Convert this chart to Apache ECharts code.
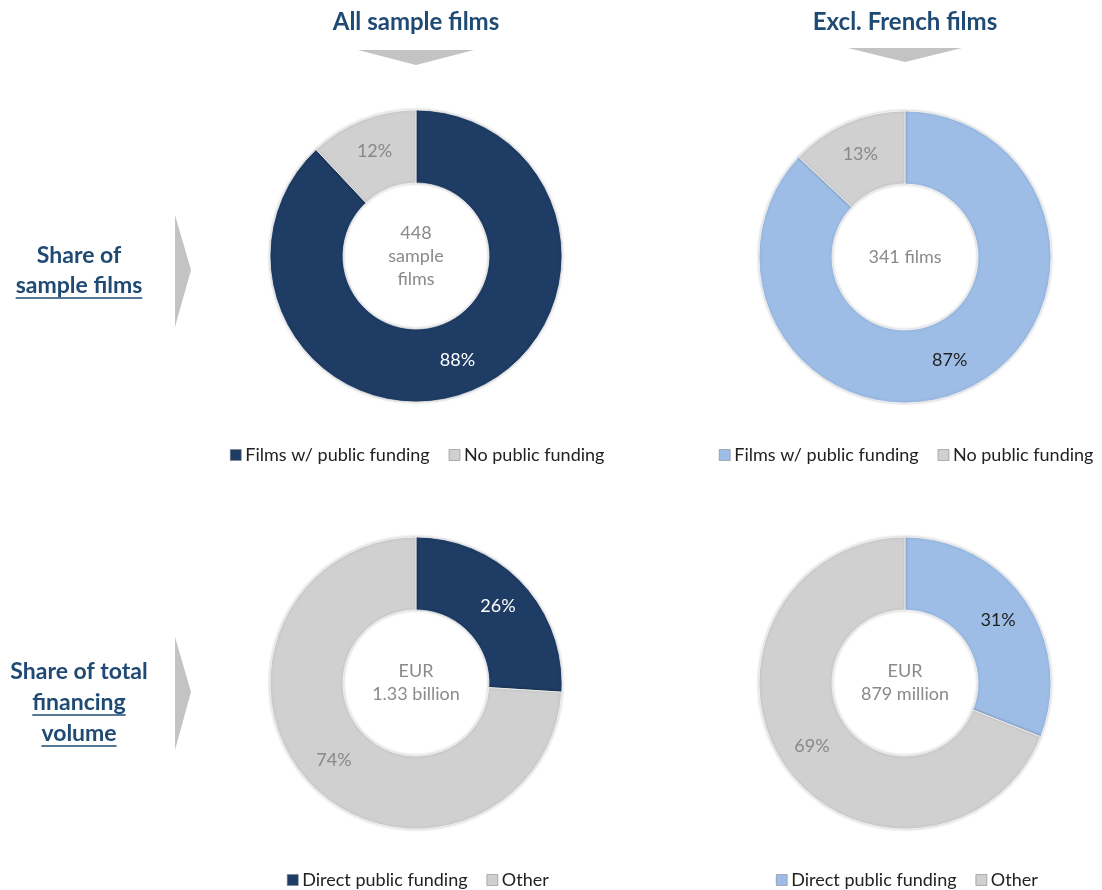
<!DOCTYPE html>
<html>
<head>
<meta charset="utf-8">
<script src="https://cdn.jsdelivr.net/npm/echarts@6/dist/echarts.min.js"></script>
<style>
  html, body { margin: 0; padding: 0; background: #fff; }
  #chart { width: 1102px; height: 890px; }
</style>
</head>
<body>
<div id="chart"></div>
<script>
// ---- data
var filmNames = ['Films w/ public funding', 'No public funding'];
var volumeNames = ['Direct public funding', 'Other'];
var allFilmsShare = [88, 12];
var exclFilmsShare = [87, 13];
var allVolumeShare = [26, 74];
var exclVolumeShare = [31, 69];
var columnTitles = ['All sample films', 'Excl. French films'];
var centerTexts = ['448\nsample\nfilms', '341 films', 'EUR\n1.33 billion', 'EUR\n879 million'];

var DARK = '#1e3c64';
var LIGHT = '#9dbde6';
var GREY = '#d0d0d0';
var NAVY = '#1f4a74';
var FONT = 'Lato, "Open Sans", sans-serif';

function pieData(names, values, colors, labelColors) {
    return values.map(function (v, i) {
        return {
            name: names[i],
            value: v,
            itemStyle: { color: colors[i] },
            label: { color: labelColors[i] }
        };
    });
}

function donut(cx, cy, data) {
    return {
        type: 'pie',
        center: [cx, cy],
        radius: [73, 146],
        startAngle: 90,
        clockwise: true,
        silent: true,
        animation: false,
        itemStyle: {
            borderColor: 'rgba(255,255,255,0.7)',
            borderWidth: 1,
            shadowBlur: 3,
            shadowColor: 'rgba(0,0,0,0.25)'
        },
        label: {
            show: true,
            position: 'inside',
            formatter: '{c}%',
            fontFamily: FONT,
            fontSize: 18
        },
        labelLine: { show: false },
        data: data
    };
}

function legendFor(left, top, names, colors) {
    return {
        left: left,
        top: top,
        padding: 0,
        width: 400,
        orient: 'horizontal',
        itemWidth: 11,
        itemHeight: 11,
        itemGap: 19,
        icon: 'rect',
        selectedMode: false,
        textStyle: { fontFamily: FONT, fontSize: 18, color: '#222', padding: [0, 0, 0, -1] },
        data: names.map(function (n, i) {
            return { name: n, itemStyle: { color: colors[i], borderColor: '#777', borderWidth: 0.5 } };
        })
    };
}

var chart = echarts.init(document.getElementById('chart'));

var centers = [[416, 256], [905, 257], [416, 683], [905, 683]];

function centerText(i) {
    return {
        type: 'text',
        x: centers[i][0],
        y: centers[i][1],
        style: {
            text: centerTexts[i],
            fill: '#8a8a8a',
            font: '18px ' + FONT,
            align: 'center',
            verticalAlign: 'middle',
            lineHeight: 23
        }
    };
}

var SIDE_FONT = 'bold 23px ' + FONT;
var measure = document.createElement('canvas').getContext('2d');
measure.font = SIDE_FONT;

function sideText(x, y, text) {
    return {
        type: 'text', x: x, y: y,
        style: {
            text: text, fill: NAVY, font: SIDE_FONT,
            align: 'center', verticalAlign: 'middle'
        }
    };
}

function underline(cx, y, text) {
    var w = measure.measureText(text).width;
    return {
        type: 'line',
        shape: { x1: cx - w / 2, y1: y, x2: cx + w / 2, y2: y },
        style: { stroke: NAVY, lineWidth: 1.5 }
    };
}

chart.setOption({
    backgroundColor: '#fff',
    legend: [
        legendFor(230, 446, filmNames, [DARK, GREY]),
        legendFor(719, 446, filmNames, [LIGHT, GREY]),
        legendFor(287, 871, volumeNames, [DARK, GREY]),
        legendFor(776, 871, volumeNames, [LIGHT, GREY])
    ],
    graphic: [
        // column titles
        { type: 'text', x: 416, y: 22, style: { text: columnTitles[0], fill: NAVY, font: 'bold 24px ' + FONT, align: 'center', verticalAlign: 'middle' } },
        { type: 'text', x: 905, y: 22, style: { text: columnTitles[1], fill: NAVY, font: 'bold 24px ' + FONT, align: 'center', verticalAlign: 'middle' } },
        // down arrows
        { type: 'polygon', shape: { points: [[358, 50], [474, 50], [416, 65]] }, style: { fill: '#c3c3c3' } },
        { type: 'polygon', shape: { points: [[848, 48], [962, 48], [905, 62]] }, style: { fill: '#c3c3c3' } },
        // side arrows
        { type: 'polygon', shape: { points: [[175, 215], [191, 270], [175, 327]] }, style: { fill: '#c3c3c3' } },
        { type: 'polygon', shape: { points: [[175, 637], [191, 692], [175, 750]] }, style: { fill: '#c3c3c3' } },
        // row labels
        sideText(79, 256, 'Share of'),
        sideText(79, 286, 'sample films'),
        underline(79, 298, 'sample films'),
        sideText(79, 672, 'Share of total'),
        sideText(79, 703, 'financing'),
        underline(79, 715, 'financing'),
        sideText(79, 734, 'volume'),
        underline(79, 746, 'volume'),
        centerText(0), centerText(1), centerText(2), centerText(3)
    ],
    series: [
        donut(416, 256, pieData(filmNames, allFilmsShare, [DARK, GREY], ['#fff', '#888'])),
        donut(905, 257, pieData(filmNames, exclFilmsShare, [LIGHT, GREY], ['#222', '#888'])),
        donut(416, 683, pieData(volumeNames, allVolumeShare, [DARK, GREY], ['#fff', '#888'])),
        donut(905, 683, pieData(volumeNames, exclVolumeShare, [LIGHT, GREY], ['#222', '#888']))
    ]
});
</script>
</body>
</html>
